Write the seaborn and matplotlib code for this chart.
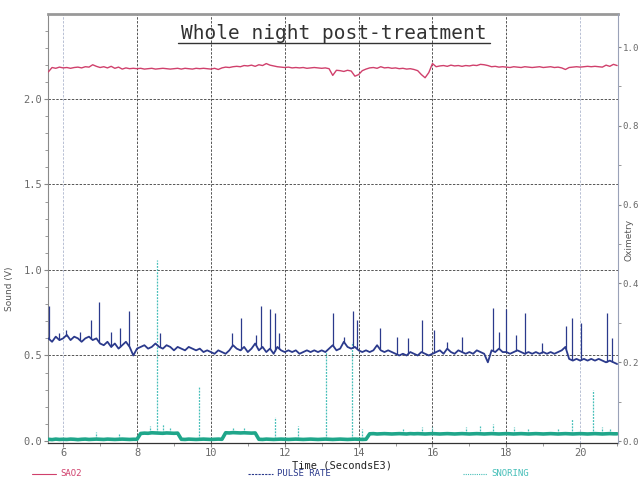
import numpy as np
import pandas as pd
import matplotlib
matplotlib.use("Agg")
import matplotlib.pyplot as plt
import seaborn as sns
from matplotlib.lines import Line2D
from matplotlib.ticker import MultipleLocator

# ---------------- data ----------------
time_ks = np.round(np.arange(5.6, 21.05, 0.1), 1)  # Time (Seconds E3)

sao2 = [0.937, 0.948, 0.946, 0.949,
        0.947, 0.948, 0.946, 0.948, 0.949, 0.947, 0.950, 0.949, 0.955, 0.951,
        0.948, 0.950, 0.947, 0.951, 0.946, 0.949, 0.944, 0.947, 0.945, 0.946,
        0.945, 0.946, 0.944, 0.945, 0.946, 0.944, 0.945, 0.946, 0.945, 0.944,
        0.945, 0.946, 0.944, 0.946, 0.945, 0.944, 0.946, 0.945, 0.946, 0.945,
        0.944, 0.946, 0.943, 0.947, 0.949, 0.948, 0.950, 0.951, 0.950, 0.953,
        0.952, 0.954, 0.951, 0.955, 0.953, 0.958, 0.954, 0.952, 0.950, 0.949,
        0.948, 0.949, 0.947, 0.948, 0.947, 0.948, 0.946, 0.947, 0.948, 0.947,
        0.946, 0.947, 0.945, 0.928, 0.941, 0.940, 0.938, 0.941, 0.939, 0.926,
        0.930, 0.940, 0.944, 0.947, 0.948, 0.946, 0.950, 0.947, 0.948, 0.946,
        0.947, 0.945, 0.946, 0.944, 0.945, 0.943, 0.940, 0.930, 0.922, 0.935,
        0.958, 0.950, 0.952, 0.953, 0.951, 0.954, 0.952, 0.953, 0.951, 0.953,
        0.952, 0.954, 0.953, 0.956, 0.955, 0.953, 0.950, 0.951, 0.949, 0.950,
        0.949, 0.948, 0.950, 0.949, 0.948, 0.950, 0.949, 0.948, 0.949, 0.950,
        0.948, 0.949, 0.950, 0.948, 0.949, 0.947, 0.943, 0.948, 0.949, 0.950,
        0.949, 0.950, 0.951, 0.950, 0.951, 0.950, 0.949, 0.954, 0.951, 0.956,
        0.953]

pulse_rate = [0.60, 0.58, 0.61, 0.59,
              0.60, 0.62, 0.59, 0.61, 0.60, 0.58, 0.60, 0.61, 0.59, 0.60,
              0.57, 0.56, 0.58, 0.55, 0.57, 0.54, 0.56, 0.58, 0.55, 0.50,
              0.54, 0.55, 0.56, 0.54, 0.55, 0.57, 0.55, 0.54, 0.56, 0.55,
              0.53, 0.55, 0.54, 0.53, 0.55, 0.54, 0.53, 0.54, 0.52, 0.53,
              0.52, 0.51, 0.53, 0.52, 0.51, 0.53, 0.56, 0.54, 0.53, 0.55,
              0.52, 0.54, 0.57, 0.53, 0.55, 0.52, 0.54, 0.51, 0.55, 0.53,
              0.52, 0.53, 0.52, 0.53, 0.51, 0.52, 0.53, 0.52, 0.53, 0.52,
              0.53, 0.52, 0.54, 0.56, 0.53, 0.54, 0.58, 0.55, 0.54, 0.55,
              0.53, 0.52, 0.53, 0.52, 0.53, 0.56, 0.53, 0.52, 0.53, 0.52,
              0.51, 0.50, 0.51, 0.50, 0.52, 0.51, 0.50, 0.52, 0.51, 0.50,
              0.51, 0.52, 0.53, 0.51, 0.54, 0.52, 0.51, 0.53, 0.52, 0.51,
              0.52, 0.51, 0.53, 0.52, 0.51, 0.46, 0.53, 0.52, 0.54, 0.52,
              0.52, 0.51, 0.52, 0.53, 0.52, 0.51, 0.52, 0.51, 0.52, 0.51,
              0.52, 0.51, 0.52, 0.51, 0.52, 0.53, 0.55, 0.48, 0.47, 0.48,
              0.47, 0.48, 0.47, 0.48, 0.47, 0.48, 0.47, 0.46, 0.47, 0.46,
              0.45]

snoring = [0.010, 0.008, 0.011, 0.009,
           0.010, 0.009, 0.011, 0.010, 0.008, 0.010, 0.011, 0.009, 0.010, 0.011,
           0.010, 0.009, 0.011, 0.010, 0.009, 0.010, 0.011, 0.010, 0.009, 0.010,
           0.010, 0.044, 0.046, 0.045, 0.048, 0.047, 0.046, 0.045, 0.047, 0.046,
           0.045, 0.046, 0.010, 0.009, 0.011, 0.010, 0.009, 0.010, 0.011, 0.010,
           0.009, 0.010, 0.011, 0.010, 0.048, 0.047, 0.049, 0.048, 0.047, 0.048,
           0.047, 0.046, 0.047, 0.010, 0.009, 0.011, 0.010, 0.009, 0.010, 0.011,
           0.010, 0.009, 0.010, 0.011, 0.010, 0.009, 0.010, 0.011, 0.010, 0.009,
           0.010, 0.011, 0.010, 0.009, 0.010, 0.011, 0.010, 0.009, 0.010, 0.011,
           0.010, 0.009, 0.010, 0.042, 0.043, 0.041, 0.042, 0.043, 0.042, 0.041,
           0.042, 0.043, 0.042, 0.041, 0.043, 0.042, 0.043, 0.042, 0.041, 0.042,
           0.043, 0.042, 0.041, 0.042, 0.043, 0.042, 0.041, 0.042, 0.043, 0.042,
           0.041, 0.042, 0.043, 0.042, 0.041, 0.042, 0.043, 0.042, 0.041, 0.042,
           0.043, 0.042, 0.041, 0.042, 0.043, 0.042, 0.041, 0.042, 0.043, 0.042,
           0.041, 0.042, 0.043, 0.042, 0.041, 0.042, 0.043, 0.042, 0.041, 0.042,
           0.043, 0.042, 0.041, 0.042, 0.043, 0.042, 0.041, 0.042, 0.043, 0.042,
           0.042]

pulse_spike_t = [5.62, 5.90, 6.08, 6.45, 6.76, 6.97, 7.30, 7.55, 7.79, 8.62,
                 10.58, 10.82, 11.22, 11.36, 11.60, 11.74, 11.85, 13.31, 13.60,
                 13.85, 13.96, 14.58, 15.04, 15.34, 15.72, 16.05, 16.40, 16.80,
                 17.64, 17.80, 17.99, 18.27, 18.50, 18.97, 19.62, 19.78, 20.03,
                 20.73, 20.87]
pulse_spike_v = [0.79, 0.63, 0.65, 0.64, 0.71, 0.81, 0.64, 0.66, 0.76, 0.63,
                 0.63, 0.72, 0.62, 0.79, 0.77, 0.75, 0.63, 0.75, 0.61,
                 0.76, 0.71, 0.66, 0.61, 0.60, 0.71, 0.65, 0.58, 0.61,
                 0.78, 0.64, 0.77, 0.62, 0.75, 0.57, 0.67, 0.72, 0.69,
                 0.75, 0.60]

snore_spike_t = [6.90, 7.50, 8.35, 8.55, 8.70, 8.90, 9.68, 10.60, 10.90, 11.74,
                 12.36, 13.12, 13.83, 14.10, 15.20, 15.72, 16.00, 16.90, 17.30,
                 17.64, 18.20, 18.60, 19.40, 19.78, 20.35, 20.60, 20.80]
snore_spike_v = [0.05, 0.04, 0.09, 1.06, 0.10, 0.08, 0.32, 0.08, 0.08, 0.14,
                 0.09, 0.52, 0.58, 0.07, 0.07, 0.08, 0.08, 0.08, 0.09,
                 0.10, 0.08, 0.07, 0.07, 0.13, 0.30, 0.08, 0.07]

# ---------------- styling ----------------
sns.set_style("ticks")
plt.rcParams['font.family'] = ['DejaVu Sans Mono', 'DejaVu Sans']

c_sao2 = "#d0406c"
c_pulse = "#2b3a8c"
c_snore = "#1fa68a"
c_snore_spk = "#45bfb8"
grid_c = "#555555"
tick_c = "#6a6a6a"

df = pd.DataFrame({"t": time_ks, "SAO2": sao2, "PULSE RATE": pulse_rate,
                   "SNORING": snoring})

fig = plt.figure(figsize=(6.4, 4.8), dpi=100)
ax = fig.add_axes([0.075, 0.077, 0.891, 0.894])
ax2 = ax.twinx()

# series
sns.lineplot(data=df, x="t", y="SNORING", ax=ax, color=c_snore, lw=2.6,
             estimator=None, zorder=3)
ax.vlines(snore_spike_t, np.interp(snore_spike_t, time_ks, snoring), snore_spike_v,
          colors=c_snore_spk, lw=0.9, linestyles=(0, (1.5, 1)), zorder=2)
sns.lineplot(data=df, x="t", y="PULSE RATE", ax=ax, color=c_pulse, lw=1.3,
             estimator=None, zorder=4)
ax.vlines(pulse_spike_t, np.interp(pulse_spike_t, time_ks, pulse_rate), pulse_spike_v,
          colors=c_pulse, lw=0.9, zorder=4)
sns.lineplot(data=df, x="t", y="SAO2", ax=ax2, color=c_sao2, lw=1.0,
             estimator=None, zorder=4)

# limits and ticks
ax.set_xlim(5.59, 21.03)
ax.set_ylim(-0.012, 2.497)
ax2.set_ylim(-0.005, 1.084)

ax.set_xticks([6, 8, 10, 12, 14, 16, 18, 20])
ax.set_xticklabels(["6", "8", "10", "12", "14", "16", "18", "20"])
ax.xaxis.set_minor_locator(MultipleLocator(1))
ax.set_yticks([0.0, 0.5, 1.0, 1.5, 2.0])
ax.set_yticklabels(["0.0", "0.5", "1.0", "1.5", "2.0"])
ax.yaxis.set_minor_locator(MultipleLocator(0.1))
ax2.set_yticks([0.0, 0.2, 0.4, 0.6, 0.8, 1.0])
ax2.set_yticklabels(["0.0", "0.2", "0.4", "0.6", "0.8", "1.0"])
ax2.yaxis.set_minor_locator(MultipleLocator(0.1))

ax.tick_params(which="major", length=3, width=0.8, color="#888888",
               labelsize=7.5, labelcolor=tick_c, pad=1)
ax.tick_params(axis="x", which="major", pad=0.5)
ax.tick_params(which="minor", length=2, width=0.7, color="#999999")
ax2.tick_params(which="major", length=2.5, width=0.8, color="#888888",
                labelsize=6.6, labelcolor=tick_c, pad=0.5)
ax2.tick_params(which="minor", length=2, width=0.7, color="#999999")

# grid
ax.grid(True, which="major", axis="both", color=grid_c, lw=0.7,
        ls=(0, (2.5, 1.5)))
for gl, tk in zip(ax.get_xgridlines(), ax.get_xticks()):
    if tk in (6, 20):
        gl.set_color("#b8c0d4")
for gl, tk in zip(ax.get_ygridlines(), ax.get_yticks()):
    if tk == 0:
        gl.set_visible(False)
ax.set_axisbelow(True)

# spines
ax.spines["top"].set_color("#999999")
ax.spines["top"].set_linewidth(2.0)
ax.spines["left"].set_color("#8a8a8a")
ax.spines["bottom"].set_color("#333333")
ax.spines["bottom"].set_linewidth(0.9)
ax.spines["right"].set_visible(False)
for s in ("top", "left", "bottom"):
    ax2.spines[s].set_visible(False)
ax2.spines["right"].set_color("#9aa2b8")
ax2.spines["right"].set_visible(True)

# labels
ax.set_xlabel("")
ax2.set_ylabel("")
ax.set_ylabel("Sound (V)", fontsize=6.5, color="#555555", family="DejaVu Sans")
ax.yaxis.set_label_coords(-0.06, 0.36)
ax.text(0.516, -0.052, "Time (SecondsE3)", transform=ax.transAxes,
        ha="center", va="center", fontsize=7.5, color="#222222")
fig.text(0.983, 0.50, "Oximetry", rotation=90, ha="center", va="center",
         fontsize=6.5, color="#555555", family="DejaVu Sans")

# title (underlined)
fig.text(0.522, 0.931, "Whole night post-treatment", ha="center", va="center",
         fontsize=14, color="#333333")
fig.add_artist(Line2D([0.278, 0.766], [0.910, 0.910], color="#333333", lw=1.0))

# legend row
legend_items = [("SAO2", c_sao2, "-", 0.050), ("PULSE RATE", c_pulse, (0, (2, 1)), 0.388),
                ("SNORING", c_snore_spk, (0, (1, 1)), 0.723)]
for label, col, ls, x0 in legend_items:
    fig.add_artist(Line2D([x0, x0 + 0.038], [0.013, 0.013], color=col, lw=0.8, ls=ls))
    fig.text(x0 + 0.045, 0.013, label, ha="left", va="center", fontsize=6.5, color=col)

fig.savefig("out.png", dpi=100)
